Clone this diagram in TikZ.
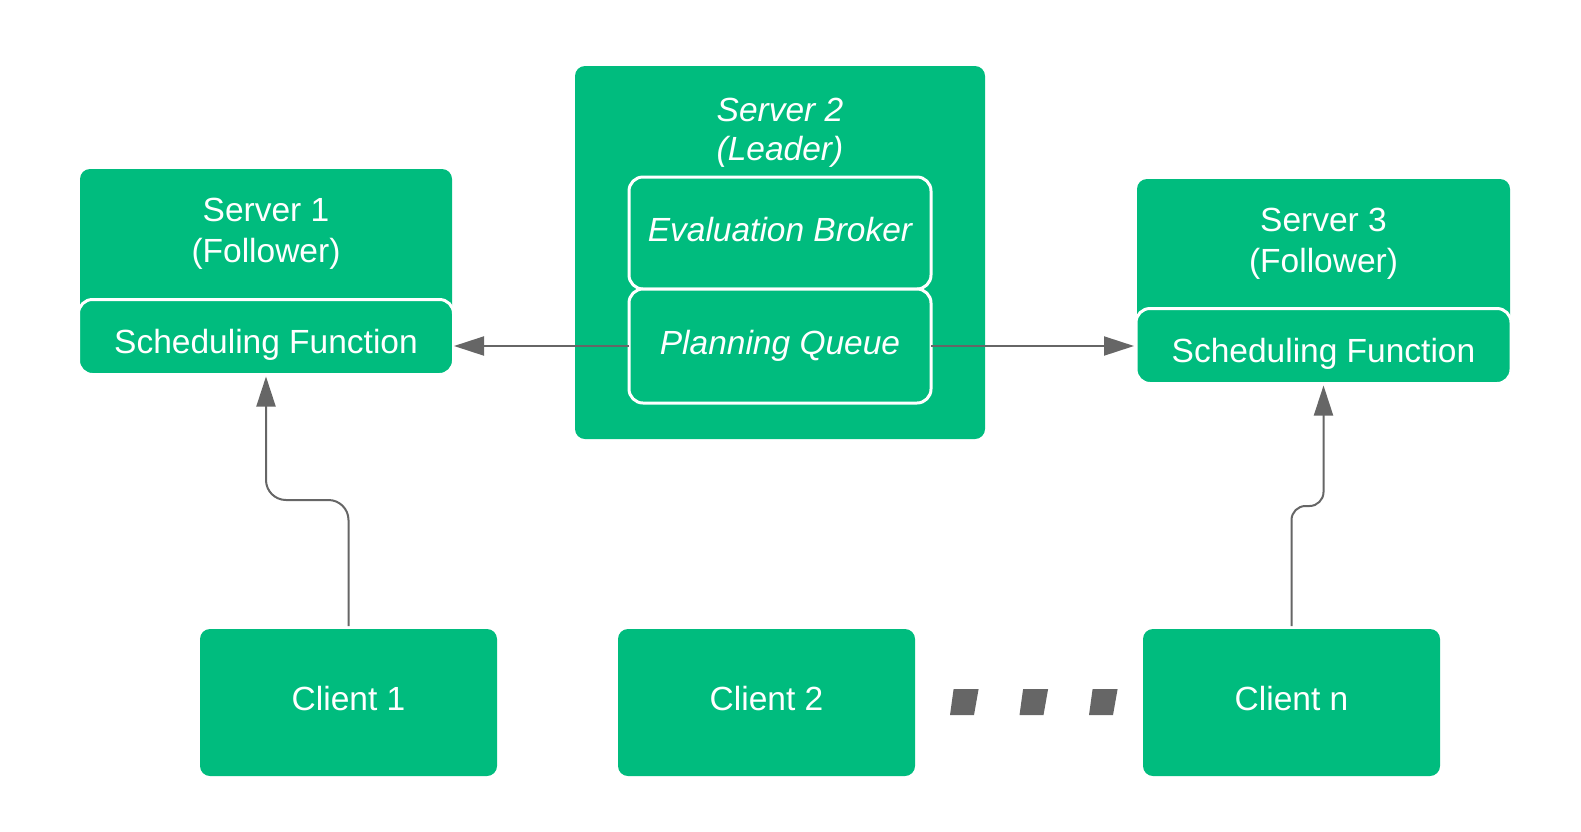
\documentclass[tikz,border=0pt]{standalone}
\usepackage{fontspec}
\setmainfont{Liberation Sans}
\usetikzlibrary{arrows.meta}
\definecolor{gr}{HTML}{00BC7E}
\definecolor{lk}{HTML}{666666}
\begin{document}
\begin{tikzpicture}[x=1pt,y=-1pt,
  box/.style={fill=gr, draw=none, rounded corners=10pt, inner sep=0pt, outer sep=0pt},
  inbox/.style={fill=gr, draw=white, line width=3pt, rounded corners=14pt, inner sep=0pt, outer sep=0pt,
                text=white, font=\fontsize{33.5}{40}\selectfont, text height=24pt, text depth=8pt},
  lbl/.style={text=white, font=\fontsize{33.5}{40}\selectfont, anchor=base, inner sep=0pt},
  ilbl/.style={lbl, font=\fontsize{33.5}{40}\selectfont\itshape},
  cbox/.style={box, text=white, font=\fontsize{33.5}{40}\selectfont, text height=24pt, text depth=8pt,
               minimum width=297pt, minimum height=147pt},
  conn/.style={draw=lk, line width=2pt, -{Triangle[length=30pt,width=19pt]}, shorten >=2pt}
]
\useasboundingbox (0,0) rectangle (1581,831);

% Server 1
\node[box, minimum width=372pt, minimum height=182pt] (s1) at (266,260) {};
\node[lbl] (s1a) at (266,221) {Server 1};
\node[lbl] (s1b) at (266,262) {(Follower)};
\node[inbox, minimum width=375pt, minimum height=75pt] (sf1) at (266,337) {};
\node[lbl] (sf1t) at (266,353) {Scheduling Function};

% Server 2
\node[box, minimum width=410pt, minimum height=373pt] (s2) at (780,252.5) {};
\node[ilbl] (s2a) at (780,121) {Server 2};
\node[ilbl] (s2b) at (780,160) {(Leader)};
\node[inbox, font=\fontsize{33.5}{40}\selectfont\itshape, minimum width=302pt, minimum height=112pt] (eb) at (780,233) {Evaluation Broker};
\node[inbox, font=\fontsize{33.5}{40}\selectfont\itshape, minimum width=302pt, minimum height=114pt] (pq) at (780,346) {Planning Queue};

% Server 3
\node[box, minimum width=373pt, minimum height=181pt] (s3) at (1323.5,269.5) {};
\node[lbl] (s3a) at (1323.5,231) {Server 3};
\node[lbl] (s3b) at (1323.5,272) {(Follower)};
\node[inbox, minimum width=375pt, minimum height=75pt] (sf3) at (1323.5,346) {};
\node[lbl] (sf3t) at (1323.5,362) {Scheduling Function};

% Clients
\node[cbox] (c1) at (348.5,702.5) {Client 1};
\node[cbox] (c2) at (766.5,702.5) {Client 2};
\node[cbox] (cn) at (1291.5,702.5) {Client n};

% ellipsis marks
\foreach \d in {0,69.5,139}
  \fill[lk] ({953.6+\d},689) -- ({978.6+\d},689) -- ({974+\d},715) -- ({950+\d},715) -- cycle;

% connectors
\draw[conn, shorten >=0.5pt] (pq.west) -- (pq.west -| sf1.east);
\draw[conn] (pq.east) -- (pq.east -| sf3.west);
\coordinate (j1) at (348.5,500);
\draw[conn, rounded corners=20pt, shorten <=3pt] (c1.north) -- (j1) -| (sf1.south);
\coordinate (j3) at (1291.5,506);
\draw[conn, rounded corners=14pt, shorten <=3pt] (cn.north) -- (j3) -| (sf3.south);
\end{tikzpicture}
\end{document}
